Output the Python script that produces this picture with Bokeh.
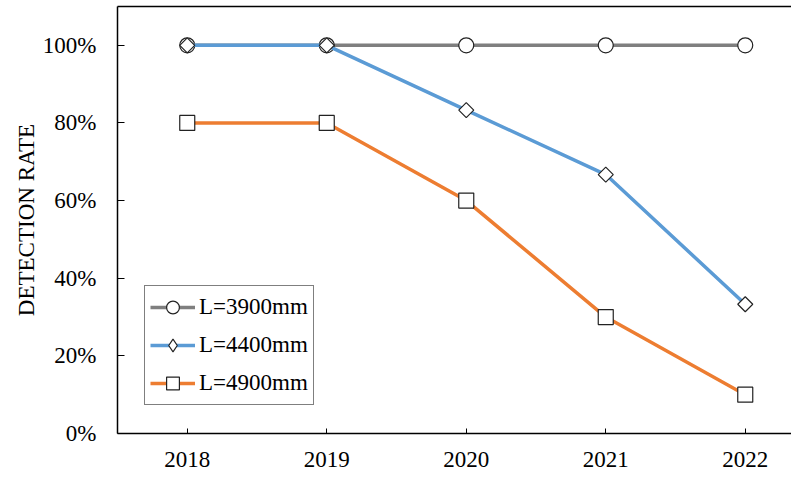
import numpy as np
from bokeh.plotting import figure
from bokeh.models import (ColumnDataSource, FixedTicker, NumeralTickFormatter,
                          LinearAxis, Label, Legend)
from bokeh.embed import file_html
from bokeh.resources import INLINE

years = [2018, 2019, 2020, 2021, 2022]
rate_3900 = [1.0, 1.0, 1.0, 1.0, 1.0]
rate_4400 = [1.0, 1.0, 0.833, 0.667, 0.333]
rate_4900 = [0.8, 0.8, 0.6, 0.3, 0.1]
labels = ["L=3900mm", "L=4400mm", "L=4900mm"]
colors = ["#7f7f7f", "#5b9bd5", "#ed7d31"]
y_ticks = [0, 0.2, 0.4, 0.6, 0.8, 1.0]

FONT = "Liberation Serif"

p = figure(width=791, height=486, output_backend="svg", toolbar_location=None,
           x_range=(2017.5, 2022.3315), y_range=(0, 1.1),
           min_border_left=117, min_border_right=0, min_border_top=6,
           min_border_bottom=53)
p.grid.visible = False
p.outline_line_color = None
p.background_fill_color = "white"

src = ColumnDataSource(dict(x=years, a=rate_3900, b=rate_4400, c=rate_4900))
mk = dict(fill_color="white", line_color="#222222", line_width=1.2)

r1 = p.line("x", "a", source=src, line_color=colors[0], line_width=3.5)
m1 = p.scatter("x", "a", source=src, marker="circle", size=15, **mk)
r2 = p.line("x", "b", source=src, line_color=colors[1], line_width=3.5)
m2 = p.scatter("x", "b", source=src, marker="square", angle=np.pi / 4, size=10.6, **mk)
r3 = p.line("x", "c", source=src, line_color=colors[2], line_width=3.5)
m3 = p.scatter("x", "c", source=src, marker="square", size=15, **mk)
# legend-only diamond (legend ignores marker angle); hidden in the plot itself
m2_leg = p.scatter("x", "b", source=src, marker="diamond", visible=False, **mk)

legend = Legend(items=[(labels[0], [r1, m1]), (labels[1], [r2, m2_leg]), (labels[2], [r3, m3])],
                location=(27, 28), padding=5, spacing=6, glyph_height=32,
                label_height=32, glyph_width=45, label_standoff=4, margin=0,
                border_line_color="black", border_line_width=1,
                background_fill_color="white", background_fill_alpha=1,
                inactive_fill_alpha=0,
                label_text_font=FONT, label_text_font_size="23px",
                label_text_color="black")
p.add_layout(legend, "center")

# x axis
xa = p.xaxis[0]
xa.ticker = FixedTicker(ticks=years)
xa.major_tick_in = 5
xa.major_tick_out = 0
xa.minor_tick_line_color = None
xa.axis_line_width = 1.5
xa.axis_line_color = "black"
xa.major_tick_line_color = "black"
xa.major_label_text_font = FONT
xa.major_label_text_font_size = "23px"
xa.major_label_text_color = "black"
xa.major_label_standoff = 18

# y axis
ya = p.yaxis[0]
ya.ticker = FixedTicker(ticks=y_ticks)
ya.formatter = NumeralTickFormatter(format="0%")
ya.major_tick_in = 7
ya.major_tick_out = 0
ya.minor_tick_line_color = None
ya.axis_line_width = 1.5
ya.axis_line_color = "black"
ya.major_tick_line_color = "black"
ya.major_label_text_font = FONT
ya.major_label_text_font_size = "23px"
ya.major_label_text_color = "black"
ya.major_label_standoff = 21
ya.axis_label = "DETECTION RATE"
ya.axis_label_text_font = FONT
ya.axis_label_text_font_size = "23px"
ya.axis_label_text_font_style = "normal"
ya.axis_label_text_color = "black"
ya.axis_label_standoff = 1

# top border line
top = LinearAxis(ticker=FixedTicker(ticks=[]), major_label_text_font_size="0px",
                 major_tick_line_color=None, minor_tick_line_color=None,
                 axis_line_color="black", axis_line_width=1.5)
p.add_layout(top, "above")

# x axis title, centred on the full (partly cropped) frame
p.add_layout(Label(x=2020, y=-0.103, text="YEAR", text_align="center",
                   text_baseline="middle", text_font=FONT,
                   text_font_size="23px", text_color="black"))

open("out.html", "w").write(file_html(p, INLINE))
